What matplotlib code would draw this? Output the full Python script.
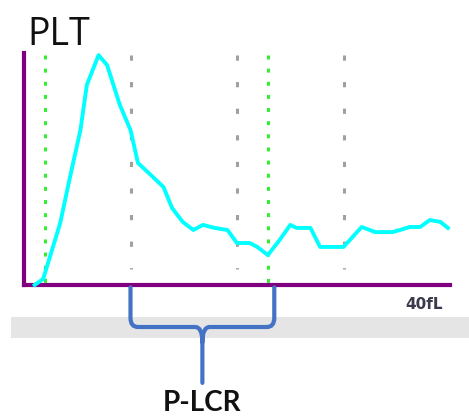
import matplotlib.pyplot as plt
import matplotlib.transforms as mtransforms
from matplotlib.patches import PathPatch, Rectangle
from matplotlib.path import Path

# histograma de plaquetas (volume em fL x contagem relativa)
volume_fl = [1.0, 1.8, 2.2, 3.4, 4.3, 5.3, 5.9, 7.0, 7.8, 9.0, 10.0, 10.7,
             12.1, 13.1, 13.9, 14.9, 15.9, 16.8, 17.9, 19.1, 20.0, 21.2,
             21.9, 22.9, 24.0, 25.0, 25.6, 26.9, 27.8, 30.0, 30.6, 31.7,
             33.0, 34.6, 35.3, 36.2, 37.2, 38.1, 39.1, 39.8]
contagem = [0, 2.6, 8.6, 26.7, 46.1, 66.8, 86.2, 99.1, 94.8, 77.6, 66.8, 52.6,
            46.6, 42.2, 33.2, 27.2, 23.7, 25.9, 24.6, 23.7, 18.1, 18.1,
            16.4, 12.9, 19.4, 25.9, 24.6, 24.6, 16.4, 16.4, 19.4, 25.0,
            22.8, 22.8, 23.7, 25.0, 25.0, 28.0, 27.2, 24.6]

limiares_verdes = [2, 22.9]      # discriminadores
grade_cinza = [10, 20, 30]       # linhas de referencia
faixa_plcr = (10, 23.5)          # chave do P-LCR

ROXO = '#800080'
CIANO = '#00ffff'
AZUL = '#4472c4'

fig = plt.figure(figsize=(4.69, 4.18), dpi=100)
fig.patch.set_facecolor('white')

# faixa cinza embaixo do grafico
fig.patches.append(Rectangle((11 / 469, 80 / 418), 1, 21 / 418, transform=fig.transFigure,
                             facecolor='#e5e5e5', edgecolor='none', zorder=-1))

ax = fig.add_axes([24 / 469, 133 / 418, 426 / 469, 232 / 418])
ax.set_xlim(0, 40)
ax.set_ylim(0, 100)
ax.set_xticks([])
ax.set_yticks([])
ax.patch.set_alpha(0)
for lado in ['top', 'right']:
    ax.spines[lado].set_visible(False)
for lado in ['left', 'bottom']:
    ax.spines[lado].set_color(ROXO)
    ax.spines[lado].set_linewidth(3)

trans_x = mtransforms.blended_transform_factory(ax.transData, ax.transAxes)

for x in grade_cinza:
    ax.plot([x, x], [0.991, 0.07], transform=trans_x, color='#a0a0a0', lw=2.2,
            linestyle=(0, (1.7, 7.0)), solid_capstyle='butt', clip_on=False)
for x in limiares_verdes:
    ax.plot([x, x], [0.991, 0.0], transform=trans_x, color='#33ee33', lw=2.2,
            linestyle=(0, (1.3, 3.0)), clip_on=False)

ax.plot(volume_fl, contagem, color=CIANO, lw=2.8, zorder=3, clip_on=False,
        solid_joinstyle='round')

ax.text(0.009, 1.034, 'PLT', transform=ax.transAxes, fontsize=27,
        family='Open Sans', color='#111111', va='baseline', ha='left')
ax.text(0.984, -0.082, '40fL', transform=ax.transAxes, fontsize=11,
        fontweight='bold', color='#3a3a4a', va='center', ha='right')

# chave azul marcando a regiao do P-LCR
x0, x1 = faixa_plcr
xm = (x0 + x1) / 2
r = 0.7
y_top, y_c, y_h, y_s, y_end = -0.01, -0.142, -0.181, -0.246, -0.422
verts = [(x0, y_top), (x0, y_c), (x0, y_h), (x0 + r, y_h),
         (xm - r, y_h), (xm, y_h), (xm, y_s), (xm, y_end),
         (xm, y_s), (xm, y_h), (xm + r, y_h),
         (x1 - r, y_h), (x1, y_h), (x1, y_c), (x1, y_top)]
codes = [Path.MOVETO, Path.LINETO, Path.CURVE3, Path.CURVE3,
         Path.LINETO, Path.CURVE3, Path.CURVE3, Path.LINETO,
         Path.MOVETO, Path.CURVE3, Path.CURVE3,
         Path.LINETO, Path.CURVE3, Path.CURVE3, Path.LINETO]
chave = PathPatch(Path(verts, codes), transform=trans_x, facecolor='none',
                  edgecolor=AZUL, lw=3, clip_on=False, capstyle='round', zorder=4)
ax.add_patch(chave)

ax.text(xm, -0.545, 'P-LCR', transform=trans_x, fontsize=20, family='Lato',
        fontweight='bold', color='#111111', ha='center', va='baseline')

fig.savefig('out.png', dpi=100, facecolor='white')
